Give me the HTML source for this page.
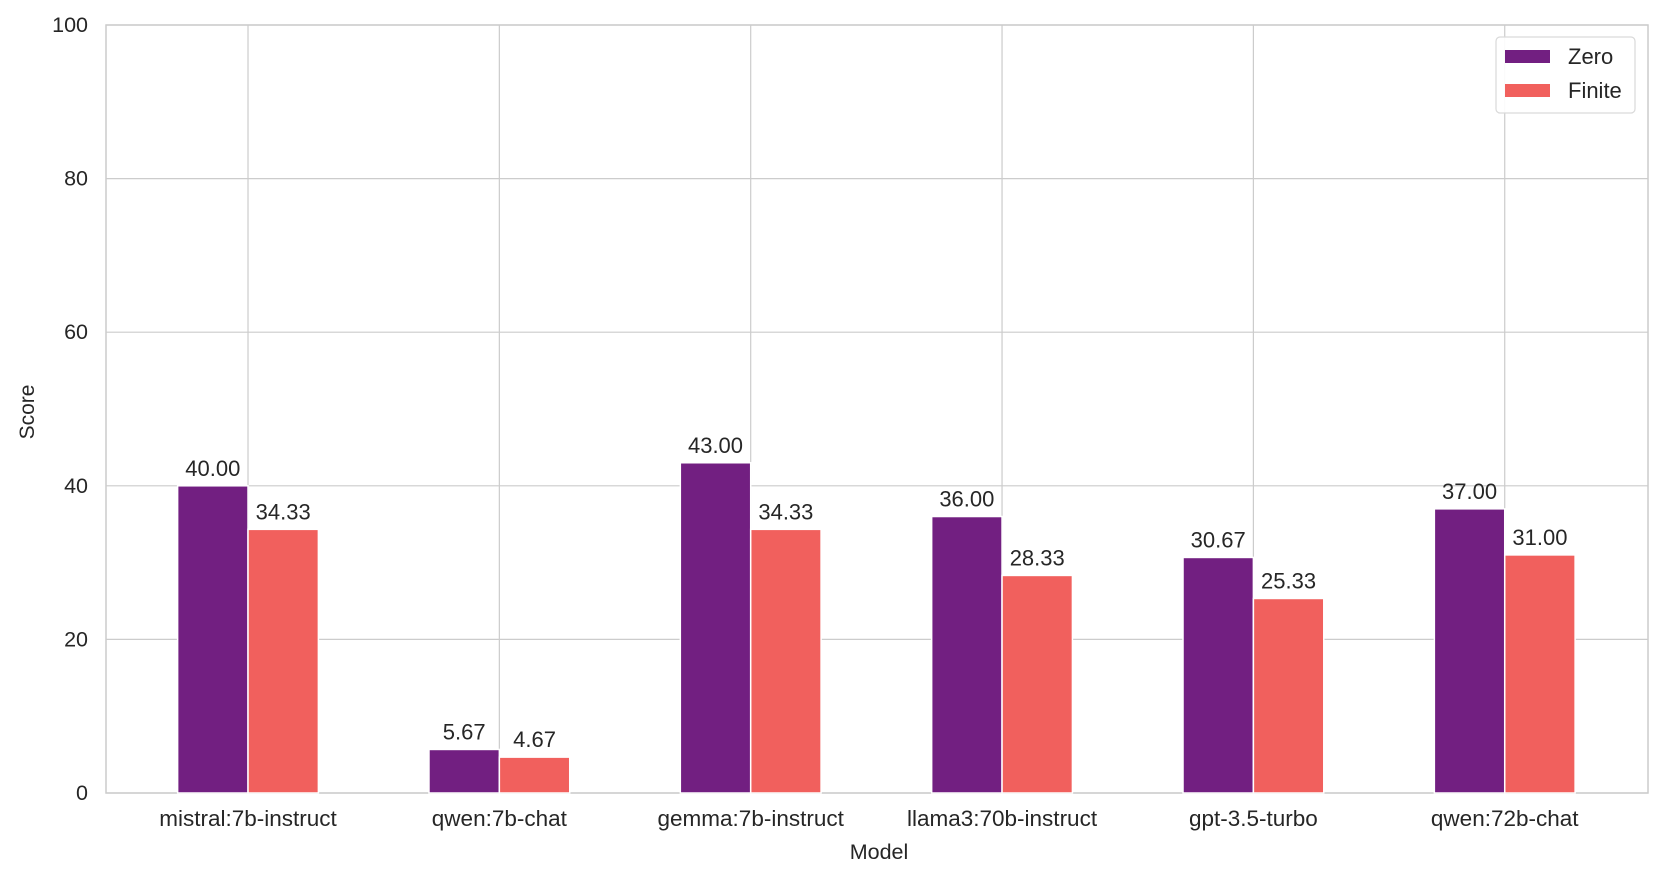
<!DOCTYPE html>
<html><head><meta charset="utf-8"><style>
html,body{margin:0;padding:0;background:#fff;}
svg{display:block;font-family:"Liberation Sans",Arial,sans-serif;}
</style></head><body>
<svg id="chart" width="1661" height="879"></svg>
<script>
const categories = ["mistral:7b-instruct","qwen:7b-chat","gemma:7b-instruct","llama3:70b-instruct","gpt-3.5-turbo","qwen:72b-chat"];
const zeroValues = [40.00, 5.67, 43.00, 36.00, 30.67, 37.00];
const finiteValues = [34.33, 4.67, 34.33, 28.33, 25.33, 31.00];
const yTicks = [0, 20, 40, 60, 80, 100];
const seriesNames = ["Zero", "Finite"];

const NS = "http://www.w3.org/2000/svg";
const svg = document.getElementById("chart");
const L = 106, R = 1648, T = 25, B = 793;
const xMin = -0.565, xMax = 5.57, yMin = 0, yMax = 100;
const xs = v => L + (v - xMin) / (xMax - xMin) * (R - L);
const ys = v => B - (v - yMin) / (yMax - yMin) * (B - T);
const colors = ["#721f81", "#f1605d"];
function mk(tag, attrs, text) {
  const e = document.createElementNS(NS, tag);
  for (const k in attrs) e.setAttribute(k, attrs[k]);
  if (text !== undefined) e.textContent = text;
  svg.appendChild(e);
  return e;
}
yTicks.forEach(t => {
  const g = mk("line", {x1: L, x2: R, y1: ys(t), y2: ys(t), stroke: "#cccccc", "stroke-width": 1.2});
  
  
  const lb = mk("text", {x: 88, y: ys(t) + 7, "text-anchor": "end", "font-size": 21.5, fill: "#262626"}, String(t));
  
  
});
categories.forEach((c, i) => {
  const g = mk("line", {x1: xs(i), x2: xs(i), y1: T, y2: B, stroke: "#cccccc", "stroke-width": 1.2});
  
  
});
const fr = mk("rect", {x: L, y: T, width: R - L, height: B - T, fill: "none", stroke: "#cccccc", "stroke-width": 1.5});


const bw = 0.28;
[zeroValues, finiteValues].forEach((vals, s) => {
  vals.forEach((v, i) => {
    const x0 = s === 0 ? i - bw : i;
    const r = mk("rect", {x: xs(x0), y: ys(v), width: xs(x0 + bw) - xs(x0), height: ys(0) - ys(v), fill: colors[s], stroke: "#fff", "stroke-width": 1.5});
    
    
    const t = mk("text", {x: xs(x0 + bw / 2), y: ys(v) - 10, "text-anchor": "middle", "font-size": 22, fill: "#262626"}, v.toFixed(2));
    
    
  });
});
categories.forEach((c, i) => {
  const t = mk("text", {x: xs(i), y: 826, "text-anchor": "middle", "font-size": 22.5, fill: "#262626"}, c);
  
  
});
const xt = mk("text", {x: (L + R) / 2 + 2, y: 859, "text-anchor": "middle", "font-size": 21.5, fill: "#262626"}, "Model");


const yt = mk("text", {x: 0, y: 0, transform: "translate(34,412) rotate(-90)", "text-anchor": "middle", "font-size": 21, fill: "#262626"}, "Score");


const lg = mk("rect", {x: 1496, y: 37, width: 139, height: 76, rx: 4, fill: "#fff", "fill-opacity": 0.9, stroke: "#d9d9d9", "stroke-width": 1.2});


seriesNames.forEach((n, s) => {
  const y = 50 + s * 34;
  const p = mk("rect", {x: 1505, y: y, width: 45, height: 13, fill: colors[s]});
  
  
  const t = mk("text", {x: 1568, y: y + 14, "font-size": 22, fill: "#262626"}, n);
  
  
});
</script>
</body></html>
